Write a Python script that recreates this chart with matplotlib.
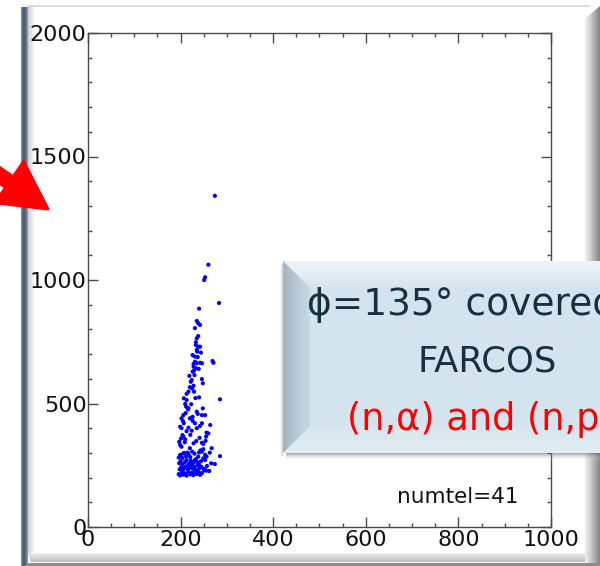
import numpy as np
import matplotlib
matplotlib.use("Agg")
import matplotlib.pyplot as plt
from matplotlib.patches import Rectangle, Polygon
from matplotlib.colors import LinearSegmentedColormap
from matplotlib.ticker import MultipleLocator

# ---------------- data ----------------
x_upper = [274, 260, 253, 251, 283, 240, 235, 238, 242, 231, 238, 235, 233, 238, 242,
           235, 236, 226, 231, 269, 271, 231, 228, 235, 242, 246, 228, 233, 229, 226,
           224, 246, 248, 228, 220, 217, 213, 240, 285, 229, 213, 210, 212, 217, 235,
           246, 253, 206, 202, 220, 226, 231, 207, 246, 242, 264, 199, 202, 235, 224,
           256, 260, 255, 206, 210, 246, 249, 228, 199, 202, 267, 249, 246, 220, 215,
           206, 199, 253, 256, 249, 253, 285, 238, 231, 228, 274, 253, 256]
y_upper = [1341, 1062, 1011, 1000, 907, 884, 834, 825, 818, 805, 773, 764, 737, 730, 730,
           717, 710, 696, 690, 672, 665, 669, 660, 663, 665, 663, 649, 643, 633, 629,
           595, 599, 582, 572, 566, 548, 539, 525, 517, 548, 514, 498, 487, 481, 467,
           453, 453, 453, 440, 440, 430, 420, 420, 420, 409, 413, 406, 400, 400, 390,
           382, 379, 366, 366, 355, 341, 336, 339, 332, 325, 319, 315, 305, 319, 301,
           298, 292, 292, 285, 278, 271, 287, 285, 271, 264, 255, 231, 228]
x_cluster = [196, 199, 203, 206, 210, 213, 217, 221, 224, 228, 231, 235, 239, 242, 246, 251,
             198, 201, 205, 208, 212, 216, 219, 223, 226, 230, 234, 237, 241, 245, 250, 257,
             197, 200, 204, 209, 213, 218, 222, 227, 233, 236, 240, 244,
             196, 200, 204, 208, 212, 217, 221, 225, 230, 240, 243,
             197, 201, 204, 209, 213, 217, 221, 205, 211, 216, 223, 207, 219, 222, 230,
             237, 233, 244, 239, 225, 232, 237, 248, 226, 241, 234, 254, 263, 266, 262]
y_cluster = [214, 209, 221, 212, 217, 208, 224, 213, 219, 210, 226, 215, 222, 211, 218, 229,
             233, 241, 229, 238, 246, 232, 240, 251, 236, 244, 231, 249, 238, 243, 236, 247,
             258, 266, 253, 262, 271, 256, 268, 259, 275, 262, 252, 266,
             281, 289, 279, 300, 286, 294, 283, 305, 297, 302, 310,
             345, 358, 372, 343, 388, 402, 373, 429, 461, 476, 497, 521, 612, 588, 615,
             688, 748, 706, 640, 561, 522, 458, 480, 446, 361, 348, 349, 301, 258, 227]

x_ticks = [0, 200, 400, 600, 800, 1000]
y_ticks = [0, 500, 1000, 1500, 2000]
x_range = (0, 1000)
y_range = (0, 2000)
counter_label = "numtel=41"
box_line1 = "\u03d5=135\u00b0 covered by"
box_line2 = "FARCOS"
box_line3 = "(n,\u03b1) and (n,p)"

# ---------------- figure ----------------
W, H = 600, 566
fig = plt.figure(figsize=(6, 5.66), dpi=100)
fig.patch.set_facecolor("white")


def pix_axes(z):
    a = fig.add_axes([0, 0, 1, 1], zorder=z)
    a.set_facecolor("none")
    a.axis("off")
    return a


def grad(a, x0, x1, y0, y1, colors, horizontal=True, clip=None, z=1):
    cmap = LinearSegmentedColormap.from_list("g", colors)
    arr = np.linspace(0, 1, 128)[None, :] if horizontal else np.linspace(0, 1, 128)[:, None]
    im = a.imshow(arr, cmap=cmap, extent=(x0, x1, y1, y0), aspect="auto",
                  zorder=z, interpolation="bilinear")
    if clip is not None:
        a.add_patch(clip)
        clip.set_visible(False)
        im.set_clip_path(clip)
    return im


bg = pix_axes(0)
# slide frame decorations
bg.add_patch(Rectangle((27, 5.2), 563, 1.3, color="#dadada", lw=0, zorder=1))
grad(bg, 20.5, 27.5, 7, 566, ["#8b99ab", "#4d5a6c", "#56657a", "#9aa8b9"])
grad(bg, 27.5, 34, 7, 556, ["#cdcdcd", "#ffffff"])
grad(bg, 27.5, 588, 553, 562.5, ["#f6f6f6", "#bcbcbc"], horizontal=False,
     clip=Polygon([(27.5, 553), (588, 553), (588, 562.5), (31, 562.5)], closed=True, transform=bg.transData))
bg.add_patch(Rectangle((27.5, 562.5), 573, 4, color="#8c8c8c", lw=0, zorder=2))
grad(bg, 584.5, 600, 6, 566, ["#f2f2f2", "#cfcfcf", "#a6a6a6", "#7c7c7c"],
     clip=Polygon([(584.5, 19), (600, 6), (600, 566), (584.5, 566)], closed=True, transform=bg.transData))
bg.set_xlim(0, W)
bg.set_ylim(H, 0)

# ---------------- plot axes ----------------
ax = fig.add_axes([88 / W, (H - 527) / H, 463 / W, 494 / H], zorder=1)
ax.set_facecolor("none")
ax.scatter(x_upper + x_cluster, y_upper + y_cluster, s=9, c="#0000ff",
           edgecolors="none", zorder=3)
ax.set_xlim(*x_range)
ax.set_ylim(*y_range)
ax.set_xticks(x_ticks)
ax.set_yticks(y_ticks)
ax.xaxis.set_minor_locator(MultipleLocator(50))
ax.yaxis.set_minor_locator(MultipleLocator(100))
for s in ax.spines.values():
    s.set_color("#4a4a4a")
    s.set_linewidth(1.0)
ax.tick_params(which="both", direction="in", top=True, right=True,
               color="#4a4a4a", labelcolor="#111111", labelsize=16, width=1.0)
ax.tick_params(which="major", length=7)
ax.tick_params(which="minor", length=3)
ax.tick_params(axis="x", which="major", pad=2)
ax.tick_params(axis="y", which="major", pad=1)
ax.text(0.668, 0.0486, counter_label, transform=ax.transAxes, fontsize=15.5,
        va="baseline", ha="left", color="#111111")

# ---------------- overlay: call-out box and arrow ----------------
ov = pix_axes(3)
# shadow under the box
grad(ov, 286, 600, 453, 461, [(0.35, 0.35, 0.35, 0.55), (1, 1, 1, 0)], horizontal=False, z=1)
grad(ov, 279, 283, 264, 456, [(1, 1, 1, 0), (0.4, 0.4, 0.4, 0.35)], z=1)
ov.add_patch(Rectangle((283, 261), 430, 192, color="#d4e4ee", lw=0, zorder=2))
bev = 27
grad(ov, 283, 713, 261, 261 + bev, ["#eef5f9", "#d6e5ee"], horizontal=False, z=3,
     clip=Polygon([(283, 261), (713, 261), (713, 261 + bev), (283 + bev, 261 + bev)],
                  closed=True, transform=ov.transData))
grad(ov, 283, 713, 453 - bev, 453, ["#d6e5ee", "#e3edf3"], horizontal=False, z=3,
     clip=Polygon([(283 + bev, 453 - bev), (713, 453 - bev), (713, 453), (283, 453)],
                  closed=True, transform=ov.transData))
grad(ov, 283, 283 + bev, 261, 453, ["#a3b6c2", "#c9dae4"], z=4,
     clip=Polygon([(283, 261), (283 + bev, 261 + bev), (283 + bev, 453 - bev), (283, 453)],
                  closed=True, transform=ov.transData))
ov.text(307, 315, box_line1, fontsize=27, color="#17303f", ha="left", va="baseline", zorder=6)
ov.text(487, 372, box_line2, fontsize=25.5, color="#17303f", ha="center", va="baseline", zorder=6)
ov.text(347, 430, box_line3, fontsize=26.5, color="#ff0000", ha="left", va="baseline", zorder=6)

# red arrow pointing down-right
tip = np.array([48.0, 209.0])
d = np.array([0.82, 0.57]); d /= np.linalg.norm(d)
n = np.array([d[1], -d[0]])
head_len, head_half, shaft_half = 47.0, 25.0, 6.5
b = tip - head_len * d
pts = [b + shaft_half * n - 120 * d, b + shaft_half * n, b + head_half * n, tip,
       b - head_half * n, b - shaft_half * n, b - shaft_half * n - 120 * d]
ov.add_patch(Polygon(pts, closed=True, facecolor="#ff0000", edgecolor="#ff0000",
                     lw=2.2, joinstyle="round", zorder=7))
ov.set_xlim(0, W)
ov.set_ylim(H, 0)

fig.savefig("out.png", dpi=100, facecolor="white")
